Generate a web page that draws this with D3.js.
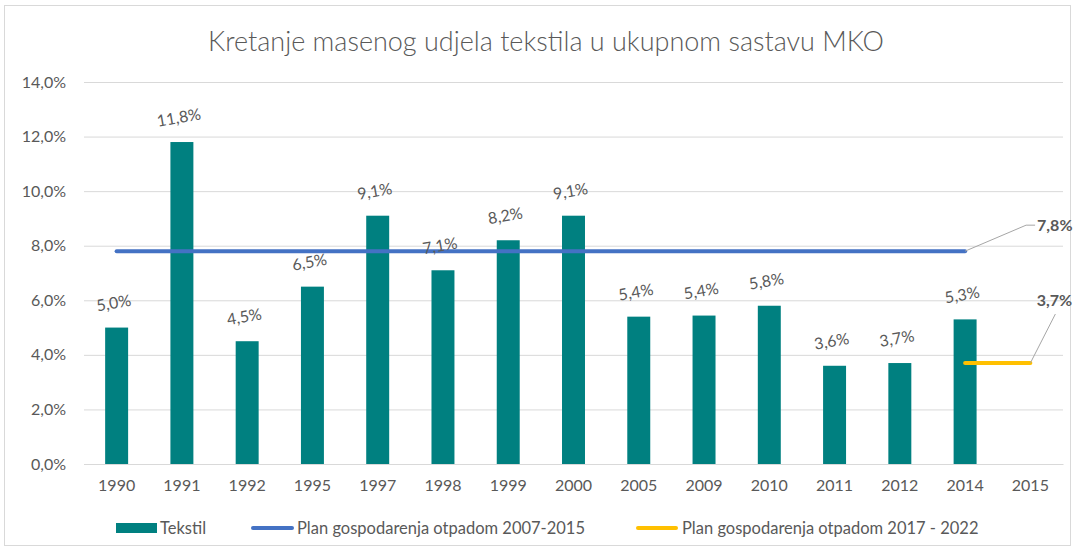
<!DOCTYPE html>
<html>
<head>
<meta charset="utf-8">
<script src="https://cdn.jsdelivr.net/npm/d3@7"></script>
<style>
  body { margin: 0; background: #fff; }
  text { font-family: Lato, "Open Sans", sans-serif; fill: #595959; }
  .grid line { stroke: #d9d9d9; stroke-width: 1; }
  .grid path { stroke: none; }
</style>
</head>
<body>
<script>
// chart data
var years = ["1990", "1991", "1992", "1995", "1997", "1998", "1999", "2000",
             "2005", "2009", "2010", "2011", "2012", "2014", "2015"];
var tekstil = [5.0, 11.8, 4.5, 6.5, 9.1, 7.1, 8.2, 9.1, 5.4, 5.44, 5.8, 3.6, 3.7, 5.3, null];
var plan2007 = [7.8, 7.8, 7.8, 7.8, 7.8, 7.8, 7.8, 7.8, 7.8, 7.8, 7.8, 7.8, 7.8, 7.8, null];
var plan2017 = [null, null, null, null, null, null, null, null, null, null, null, null, null, 3.7, 3.7];
var yTicks = [0, 2, 4, 6, 8, 10, 12, 14];
var seriesNames = ["Tekstil", "Plan gospodarenja otpadom 2007-2015", "Plan gospodarenja otpadom 2017 - 2022"];

var W = 1079, H = 553;
var plotLeft = 84, plotRight = 1063, plotTop = 82, plotBottom = 464;

var fmt = function(v) { return v.toFixed(1).replace(".", ",") + "%"; };

var svg = d3.select("body").append("svg")
    .attr("width", W)
    .attr("height", H);

// outer frame
svg.append("rect")
    .attr("x", 4.5).attr("y", 5.5)
    .attr("width", 1066).attr("height", 540)
    .attr("fill", "#fff")
    .attr("stroke", "#d9d9d9");

// scales
var x = d3.scaleBand()
    .domain(years)
    .range([plotLeft, plotRight])
    .paddingInner(0.648)
    .paddingOuter(0.324);
var y = d3.scaleLinear().domain([0, 14]).range([plotBottom, plotTop]);

// title
svg.append("text")
    .attr("x", 546)
    .attr("y", 51)
    .attr("text-anchor", "middle")
    .attr("font-size", "27px")
    .attr("font-weight", 300)
    .text("Kretanje masenog udjela tekstila u ukupnom sastavu MKO");

// gridlines
svg.append("g")
    .attr("class", "grid")
    .attr("transform", "translate(" + plotLeft + ",0)")
    .call(d3.axisLeft(y).tickValues(yTicks)
        .tickSize(-(plotRight - plotLeft))
        .tickFormat(""));

// y axis labels
var yAxis = svg.append("g")
    .attr("transform", "translate(" + plotLeft + ",0)")
    .call(d3.axisLeft(y).tickValues(yTicks).tickSize(0).tickPadding(18)
        .tickFormat(function(d) { return fmt(d); }));
yAxis.select(".domain").remove();
yAxis.selectAll("text")
    .attr("font-size", "16px")
    .style("font-family", "Lato, sans-serif")
    .attr("fill", "#595959");

// x axis
var xAxis = svg.append("g")
    .attr("transform", "translate(0," + plotBottom + ")")
    .call(d3.axisBottom(x).tickSize(0).tickPadding(16));
xAxis.select(".domain").attr("stroke", "#d9d9d9");
xAxis.selectAll("text")
    .attr("font-size", "16px")
    .style("font-family", "Lato, sans-serif")
    .attr("fill", "#595959");

var barData = years.map(function(yr, i) { return {year: yr, value: tekstil[i]}; })
    .filter(function(d) { return d.value != null; });

// bars
svg.selectAll(".bar")
    .data(barData)
  .enter().append("rect")
    .attr("class", "bar")
    .attr("x", function(d) { return x(d.year); })
    .attr("width", x.bandwidth())
    .attr("y", function(d) { return y(d.value); })
    .attr("height", function(d) { return plotBottom - y(d.value); })
    .attr("fill", "#008080");

// lines
var line = d3.line()
    .defined(function(d) { return d.value != null; })
    .x(function(d) { return x(d.year) + x.bandwidth() / 2; })
    .y(function(d) { return y(d.value); });

var blueData = years.map(function(yr, i) { return {year: yr, value: plan2007[i]}; });
var goldData = years.map(function(yr, i) { return {year: yr, value: plan2017[i]}; });

svg.append("path")
    .datum(blueData)
    .attr("fill", "none")
    .attr("stroke", "#4472C4")
    .attr("stroke-width", 4)
    .attr("stroke-linecap", "round")
    .attr("d", line);

svg.append("path")
    .datum(goldData)
    .attr("fill", "none")
    .attr("stroke", "#FFC000")
    .attr("stroke-width", 4)
    .attr("stroke-linecap", "round")
    .attr("d", line);

// bar labels (slightly tilted)
svg.selectAll(".lbl")
    .data(barData)
  .enter().append("text")
    .attr("class", "lbl")
    .attr("text-anchor", "middle")
    .attr("font-size", "16px")
    .attr("transform", function(d) {
        var cx = x(d.year) + x.bandwidth() / 2 - 2;
        var cy = y(d.value) - 19;
        return "translate(" + cx + "," + cy + ") rotate(-10)";
    })
    .text(function(d) { return fmt(d.value); });

// callouts for the plan lines
var lastBlue = blueData.filter(function(d) { return d.value != null; }).pop();
var bx = x(lastBlue.year) + x.bandwidth() / 2, by = y(lastBlue.value);
svg.append("polyline")
    .attr("points", [[bx, by], [bx + 61, by - 26], [bx + 70, by - 26]].join(" "))
    .attr("fill", "none")
    .attr("stroke", "#a6a6a6");
svg.append("text")
    .attr("x", bx + 72)
    .attr("y", by - 20)
    .attr("font-size", "16px")
    .attr("font-weight", "bold")
    .attr("fill", "#262626")
    .text(fmt(lastBlue.value));

var lastGold = goldData[goldData.length - 1];
var gx = x(lastGold.year) + x.bandwidth() / 2, gy = y(lastGold.value);
svg.append("line")
    .attr("x1", gx).attr("y1", gy)
    .attr("x2", gx + 25).attr("y2", gy - 49)
    .attr("stroke", "#a6a6a6");
svg.append("text")
    .attr("x", gx + 24)
    .attr("y", gy - 57)
    .attr("text-anchor", "middle")
    .attr("font-size", "16px")
    .attr("font-weight", "bold")
    .attr("fill", "#262626")
    .text(fmt(lastGold.value));

// legend
var legY = 528;
var legend = svg.append("g");
legend.append("rect")
    .attr("x", 116).attr("y", legY - 5)
    .attr("width", 41).attr("height", 10)
    .attr("fill", "#008080");
legend.append("text")
    .attr("x", 160).attr("y", legY + 6)
    .attr("font-size", "16.5px")
    .text(seriesNames[0]);
legend.append("line")
    .attr("x1", 253).attr("x2", 292)
    .attr("y1", legY).attr("y2", legY)
    .attr("stroke", "#4472C4").attr("stroke-width", 4)
    .attr("stroke-linecap", "round");
legend.append("text")
    .attr("x", 297).attr("y", legY + 6)
    .attr("font-size", "16.5px")
    .text(seriesNames[1]);
legend.append("line")
    .attr("x1", 638).attr("x2", 676)
    .attr("y1", legY).attr("y2", legY)
    .attr("stroke", "#FFC000").attr("stroke-width", 4)
    .attr("stroke-linecap", "round");
legend.append("text")
    .attr("x", 682).attr("y", legY + 6)
    .attr("font-size", "16.5px")
    .text(seriesNames[2]);
</script>
</body>
</html>
